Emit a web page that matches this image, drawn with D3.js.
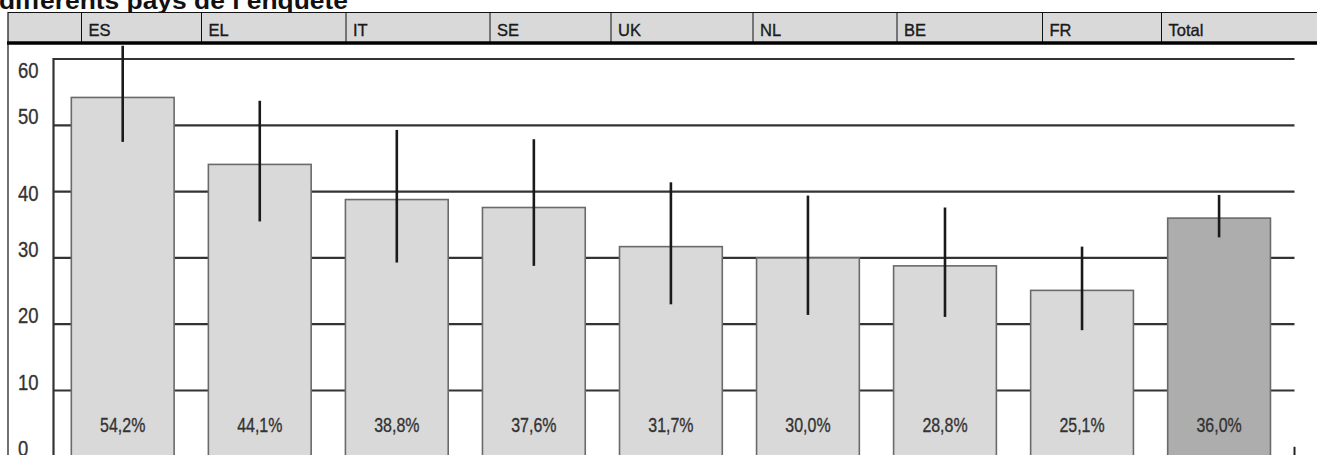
<!DOCTYPE html>
<html>
<head>
<meta charset="utf-8">
<script src="https://cdn.jsdelivr.net/npm/d3@7"></script>
<style>
  html, body { margin: 0; padding: 0; background: #fff; }
  svg { display: block; }
  text { font-family: "Liberation Sans", Arial, sans-serif; }
</style>
</head>
<body>
<svg id="chart" width="1317" height="455"></svg>
<script>
// Countries and share of respondents (%), with confidence interval bounds
const categories = ["ES", "EL", "IT", "SE", "UK", "NL", "BE", "FR", "Total"];
const values     = [54.2, 44.1, 38.8, 37.6, 31.7, 30.0, 28.8, 25.1, 36.0];
const lowBounds  = [47.5, 35.5, 29.3, 28.8, 23.0, 21.4, 21.1, 19.1, 33.1];
const highBounds = [62.0, 53.7, 49.3, 47.9, 41.4, 39.4, 37.6, 31.7, 39.5];
const valueLabels = ["54,2%", "44,1%", "38,8%", "37,6%", "31,7%", "30,0%", "28,8%", "25,1%", "36,0%"];
const yTicks = [0, 10, 20, 30, 40, 50, 60];
const yTickLabels = ["0", "10", "20", "30", "40", "50", "60"];
// Header cell left edges (the first cell is an empty corner)
const headerEdges = [8, 81.5, 201.5, 346, 490, 611, 753, 897, 1042.5, 1161.5, 1317];

const svg = d3.select("#chart");
const W = 1317;

const x = d3.scaleBand()
  .domain(categories)
  .range([54.2, 1287.6])
  .paddingInner(0.25)
  .paddingOuter(0.125);

const y = d3.scaleLinear()
  .domain([0, 60])
  .range([456.8, 59]);

const gridLeft = 53.5, gridRight = 1294.5;

// Condensed text: draw at (px, py) squeezed horizontally
function condensed(sel, px, py, sx) {
  return sel.attr("transform", (d, i) =>
    `translate(${typeof px === "function" ? px(d, i) : px},${typeof py === "function" ? py(d, i) : py}) scale(${sx},1)`);
}

// Title (partly above the frame)
svg.append("text")
  .attr("x", -1)
  .attr("y", 8.5)
  .attr("font-weight", "bold")
  .attr("font-size", 23)
  .attr("textLength", 349)
  .attr("lengthAdjust", "spacingAndGlyphs")
  .attr("fill", "#111")
  .text("différents pays de l’enquête");

// Header row
const header = svg.append("g");
header.append("rect")
  .attr("x", headerEdges[0]).attr("y", 12.5)
  .attr("width", W - headerEdges[0]).attr("height", 29)
  .attr("fill", "#d9d9d9");
header.append("line")
  .attr("x1", headerEdges[0]).attr("x2", W)
  .attr("y1", 12.5).attr("y2", 12.5)
  .attr("stroke", "#111").attr("stroke-width", 1.2);
header.selectAll("line.sep")
  .data(headerEdges.slice(1, -1))
  .join("line")
  .attr("class", "sep")
  .attr("x1", d => d).attr("x2", d => d)
  .attr("y1", 12.5).attr("y2", 42)
  .attr("stroke", "#111").attr("stroke-width", 1);
condensed(header.selectAll("text")
  .data(categories)
  .join("text")
  .attr("font-size", 16.5)
  .attr("fill", "#1a1a1a")
  .attr("stroke", "#1a1a1a")
  .attr("stroke-width", 0.35)
  .text(d => d), (d, i) => headerEdges[i + 1] + 7, 35.7, 1);
header.append("line")
  .attr("x1", headerEdges[0] - 1).attr("x2", W)
  .attr("y1", 43).attr("y2", 43)
  .attr("stroke", "#000").attr("stroke-width", 3.5);

// Left frame border
svg.append("line")
  .attr("x1", 8).attr("x2", 8)
  .attr("y1", 12).attr("y2", 455)
  .attr("stroke", "#111").attr("stroke-width", 1.2);

// Gridlines
svg.append("g")
  .selectAll("line")
  .data(yTicks)
  .join("line")
  .attr("x1", gridLeft).attr("x2", gridRight)
  .attr("y1", d => y(d)).attr("y2", d => y(d))
  .attr("stroke", "#333").attr("stroke-width", 2.2);

// Vertical axis line
svg.append("line")
  .attr("x1", gridLeft).attr("x2", gridLeft)
  .attr("y1", y(60) - 1).attr("y2", y(0))
  .attr("stroke", "#333").attr("stroke-width", 2.2);

// Right frame stub at the base
svg.append("line")
  .attr("x1", gridRight).attr("x2", gridRight)
  .attr("y1", y(0) - 10).attr("y2", y(0))
  .attr("stroke", "#222").attr("stroke-width", 2);

// Y tick labels (the top two sit a little lower than their lines)
const labelDrop = d => d === 60 ? 19 : d === 40 ? 9 : -1;
condensed(svg.append("g")
  .selectAll("text")
  .data(yTicks)
  .join("text")
  .attr("font-size", 22.5)
  .attr("fill", "#333")
  .attr("stroke", "#333")
  .attr("stroke-width", 0.35)
  .text((d, i) => yTickLabels[i]), 18, d => y(d) + labelDrop(d), 0.82);

// Bars
svg.append("g")
  .selectAll("rect")
  .data(categories)
  .join("rect")
  .attr("x", d => x(d))
  .attr("y", (d, i) => y(values[i]))
  .attr("width", x.bandwidth())
  .attr("height", (d, i) => y(0) - y(values[i]))
  .attr("fill", d => d === "Total" ? "#adadad" : "#d9d9d9")
  .attr("stroke", "#6a6a6a")
  .attr("stroke-width", 1.6);

// Confidence intervals
svg.append("g")
  .selectAll("line")
  .data(categories)
  .join("line")
  .attr("x1", d => x(d) + x.bandwidth() / 2)
  .attr("x2", d => x(d) + x.bandwidth() / 2)
  .attr("y1", (d, i) => Math.max(y(highBounds[i]), 45))
  .attr("y2", (d, i) => y(lowBounds[i]))
  .attr("stroke", "#1a1a1a")
  .attr("stroke-width", 2.6);

// Value labels near the base of each bar
condensed(svg.append("g")
  .selectAll("text")
  .data(categories)
  .join("text")
  .attr("text-anchor", "middle")
  .attr("font-size", 21)
  .attr("fill", "#333")
  .attr("stroke", "#333")
  .attr("stroke-width", 0.35)
  .text((d, i) => valueLabels[i]), d => x(d) + x.bandwidth() / 2, y(0) - 25, 0.76);
</script>
</body>
</html>
